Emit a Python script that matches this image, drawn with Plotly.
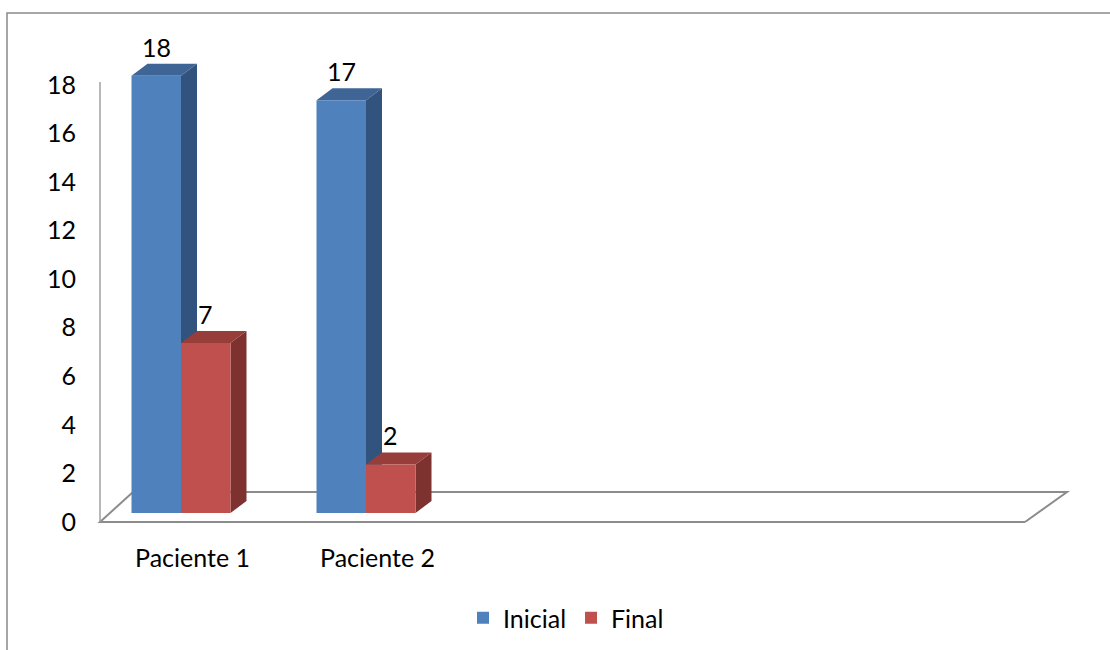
import plotly.graph_objects as go

# ---- data ----
categories = ["Paciente 1", "Paciente 2", "", "", ""]
series_names = ["Inicial", "Final"]
inicial = [18, 17]
final = [7, 2]
y_ticks = [0, 2, 4, 6, 8, 10, 12, 14, 16, 18]

# ---- style / geometry (pixel-derived constants) ----
PX_X = 185.0          # pixels per category
PX_Y = 24.286         # pixels per value unit
ML, MR, MT, MB = 95, 0, 0, 125
W, H = 1110, 650
BASE = 9 / PX_Y       # bars sit slightly behind the front floor edge
DX = 16 / PX_X        # 3D depth offset (x)
DY = 12 / PX_Y        # 3D depth offset (y)
BAR_W = 49.5 / PX_X
GROUP_SHIFT = -11.5 / PX_X
FLOOR_BACK_Y = 30 / PX_Y
FLOOR_LEFT_DX = 33 / PX_X
FLOOR_RIGHT_DX = 42 / PX_X

x0 = -0.5 - (100 - ML) / PX_X
x1 = x0 + (W - ML - MR) / PX_X
y0 = -(H - MB - 522) / PX_Y
y1 = y0 + (H - MT - MB) / PX_Y

FONT = "Lato, Carlito, Calibri, sans-serif"
FS = 25

series = [
    dict(name=series_names[0], vals=inicial, front="#4F81BD", top="#3E6596", side="#31537E",
         offset=GROUP_SHIFT - BAR_W),
    dict(name=series_names[1], vals=final, front="#C0504D", top="#973E3B", side="#7E3230",
         offset=GROUP_SHIFT),
]

fig = go.Figure()
shapes = []
annotations = []

# floor outline (behind bars)
n_cat = len(categories)
left_front = -0.5
right_front = n_cat - 0.5
shapes.append(dict(
    type="path", layer="below", xref="x", yref="y",
    path=(f"M {right_front},0 L {right_front + FLOOR_RIGHT_DX},{FLOOR_BACK_Y} "
          f"L {left_front + FLOOR_LEFT_DX},{FLOOR_BACK_Y} L {left_front},0 L {right_front},0"),
    line=dict(color="#8C8C8C", width=2), fillcolor="rgba(0,0,0,0)"))

# y axis line
shapes.append(dict(type="line", layer="below", xref="x", yref="y",
                   x0=left_front, x1=left_front, y0=0, y1=max(y_ticks) + 0.12,
                   line=dict(color="#A0A0A0", width=1.5)))

for s in series:
    xs = list(range(len(s["vals"])))
    fig.add_trace(go.Bar(
        x=xs, y=s["vals"], base=BASE, width=BAR_W, offset=s["offset"],
        name=s["name"], marker=dict(color=s["front"], line=dict(width=0)),
        hoverinfo="skip"))
    for xi, v in zip(xs, s["vals"]):
        l = xi + s["offset"]
        r = l + BAR_W
        t = BASE + v
        shapes.append(dict(type="path", layer="below", xref="x", yref="y",
                           path=f"M {l},{t} L {l + DX},{t + DY} L {r + DX},{t + DY} L {r},{t} Z",
                           fillcolor=s["top"], line=dict(width=0)))
        shapes.append(dict(type="path", layer="below", xref="x", yref="y",
                           path=f"M {r},{t} L {r + DX},{t + DY} L {r + DX},{BASE + DY} L {r},{BASE} Z",
                           fillcolor=s["side"], line=dict(width=0)))
        annotations.append(dict(x=(l + r) / 2, y=t, xref="x", yref="y", text=str(v),
                                showarrow=False, yshift=29,
                                font=dict(family=FONT, size=FS, color="black")))

# outer chart border (top and left visible)
def px2paper_x(px):
    return (px - ML) / (W - ML - MR)

def px2paper_y(py):
    return (H - MB - py) / (H - MT - MB)

shapes.append(dict(type="path", xref="paper", yref="paper", layer="above",
                   path=(f"M {px2paper_x(7)},{px2paper_y(670)} L {px2paper_x(7)},{px2paper_y(13)} "
                         f"L {px2paper_x(1130)},{px2paper_y(13)}"),
                   line=dict(color="#898989", width=1.5)))

fig.update_layout(
    width=W, height=H,
    margin=dict(l=ML, r=MR, t=MT, b=MB, pad=0),
    paper_bgcolor="white", plot_bgcolor="white",
    barmode="overlay",
    font=dict(family=FONT, size=FS, color="black"),
    showlegend=True,
    legend=dict(orientation="h", x=px2paper_x(566), xanchor="center",
                y=px2paper_y(618), yanchor="middle",
                font=dict(family=FONT, size=FS, color="black"),
                bgcolor="rgba(0,0,0,0)", itemclick=False),
    xaxis=dict(range=[x0, x1], tickmode="array", tickvals=list(range(n_cat)),
               ticktext=categories, showgrid=False, zeroline=False, showline=False,
               ticks="", ticklabelstandoff=16, fixedrange=True),
    yaxis=dict(range=[y0, y1], tickmode="array", tickvals=y_ticks,
               ticktext=[str(t) for t in y_ticks], showgrid=False, zeroline=False,
               showline=False, ticks="", ticklabelstandoff=18, fixedrange=True),
    shapes=shapes,
    annotations=annotations,
)

fig.write_html("out.html")
